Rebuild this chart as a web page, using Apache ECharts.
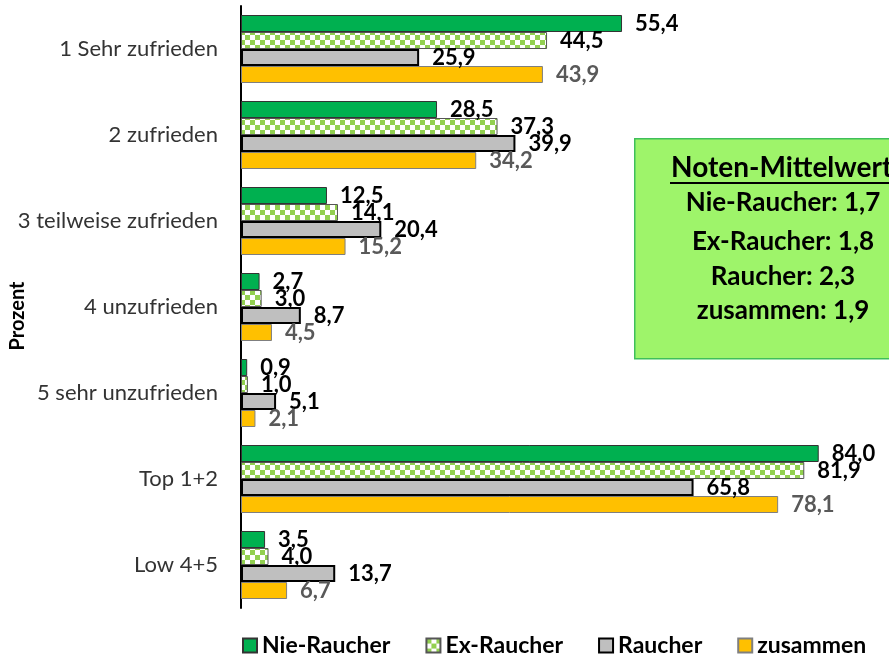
<!DOCTYPE html>
<html>
<head>
<meta charset="utf-8">
<script src="https://cdn.jsdelivr.net/npm/echarts@6/dist/echarts.min.js"></script>
<style>
  html, body { margin: 0; padding: 0; background: #fff; }
  #chart { width: 889px; height: 655px; }
</style>
</head>
<body>
<div id="chart"></div>
<script>
// Kategorien (von oben nach unten)
var categories = [
  "1 Sehr zufrieden",
  "2 zufrieden",
  "3 teilweise zufrieden",
  "4 unzufrieden",
  "5 sehr unzufrieden",
  "Top 1+2",
  "Low 4+5"
];
var seriesNames = ["Nie-Raucher", "Ex-Raucher", "Raucher", "zusammen"];
var nieRaucher = [55.4, 28.5, 12.5, 2.7, 0.9, 84.0, 3.5];
var exRaucher = [44.5, 37.3, 14.1, 3.0, 1.0, 81.9, 4.0];
var raucher = [25.9, 39.9, 20.4, 8.7, 5.1, 65.8, 13.7];
var zusammen = [43.9, 34.2, 15.2, 4.5, 2.1, 78.1, 6.7];

// Infobox Noten-Mittelwert
var boxTitle = "Noten-Mittelwert";
var boxLines = ["Nie-Raucher: 1,7", "Ex-Raucher: 1,8", "Raucher: 2,3", "zusammen: 1,9"];
var boxLineY = [203, 242, 277, 311];

// Karomuster fuer Ex-Raucher
function makeChecker() {
  var c = document.createElement("canvas");
  c.width = 10;
  c.height = 10;
  var ctx = c.getContext("2d");
  ctx.fillStyle = "#ffffff";
  ctx.fillRect(0, 0, 10, 10);
  ctx.fillStyle = "#92d050";
  ctx.fillRect(0, 0, 5, 5);
  ctx.fillRect(5, 5, 5, 5);
  return c;
}

var fmt = function (p) {
  return p.value.toFixed(1).replace(".", ",");
};

function labelStyle(color) {
  return {
    show: true,
    position: "right",
    distance: 13,
    formatter: fmt,
    fontFamily: "Lato",
    fontWeight: "bold",
    fontSize: 22,
    color: color
  };
}

var chart = echarts.init(document.getElementById("chart"));

var option = {
  backgroundColor: "#fff",
  animation: false,
  grid: {
    left: 241,
    right: 29,
    top: 6,
    bottom: 47,
    outerBoundsMode: "none",
    containLabel: false
  },
  legend: {
    left: 237,
    top: 629,
    itemWidth: 14,
    itemHeight: 14,
    itemGap: 35,
    icon: "rect",
    textStyle: {
      fontFamily: "Lato",
      fontWeight: "bold",
      fontSize: 23,
      color: "#000"
    },
    data: seriesNames
  },
  xAxis: {
    type: "value",
    min: 0,
    max: 90,
    show: false,
    splitLine: { show: false }
  },
  yAxis: {
    type: "category",
    inverse: true,
    data: categories,
    axisLine: { show: true, lineStyle: { color: "#000", width: 2 } },
    axisTick: { show: false },
    axisLabel: {
      margin: 23,
      fontFamily: "Lato",
      fontSize: 22,
      color: "#333"
    }
  },
  series: [
    {
      name: seriesNames[0],
      type: "bar",
      data: nieRaucher,
      barWidth: 17,
      barGap: "0%",
      itemStyle: { color: "#00b050", borderColor: "#333", borderWidth: 1 },
      label: labelStyle("#000")
    },
    {
      name: seriesNames[1],
      type: "bar",
      data: exRaucher,
      barWidth: 17,
      barGap: "0%",
      itemStyle: {
        color: { image: makeChecker(), repeat: "repeat" },
        borderColor: "#555",
        borderWidth: 1
      },
      label: labelStyle("#000")
    },
    {
      name: seriesNames[2],
      type: "bar",
      data: raucher,
      barWidth: 17,
      barGap: "0%",
      itemStyle: { color: "#bfbfbf", borderColor: "#000", borderWidth: 2 },
      label: labelStyle("#000")
    },
    {
      name: seriesNames[3],
      type: "bar",
      data: zusammen,
      barWidth: 17,
      barGap: "0%",
      itemStyle: { color: "#ffc000", borderColor: "#7f7f7f", borderWidth: 1 },
      label: labelStyle("#595959")
    }
  ],
  graphic: [
    {
      // Achsentitel
      type: "text",
      x: 18,
      y: 316,
      rotation: Math.PI / 2,
      style: {
        text: "Prozent",
        textAlign: "center",
        textVerticalAlign: "middle",
        font: "bold 20px Lato",
        fill: "#000"
      }
    },
    {
      type: "rect",
      left: 634,
      top: 138,
      shape: { width: 270, height: 220 },
      style: { fill: "#9ef46a", stroke: "#3fbf5a", lineWidth: 1.5 },
      z: 10
    },
    {
      type: "text",
      x: 671,
      y: 168,
      style: {
        text: boxTitle,
        textAlign: "left",
        textVerticalAlign: "middle",
        font: "bold 28px Lato",
        fill: "#000"
      },
      z: 11
    },
    {
      type: "line",
      shape: { x1: 670, y1: 183, x2: 889, y2: 183 },
      style: { stroke: "#000", lineWidth: 2 },
      z: 11
    }
  ].concat(boxLines.map(function (t, i) {
    return {
      type: "text",
      x: 783,
      y: boxLineY[i],
      style: {
        text: t,
        textAlign: "center",
        textVerticalAlign: "middle",
        font: "bold 26px Lato",
        fill: "#000"
      },
      z: 11
    };
  }))
};

chart.setOption(option);
</script>
</body>
</html>
